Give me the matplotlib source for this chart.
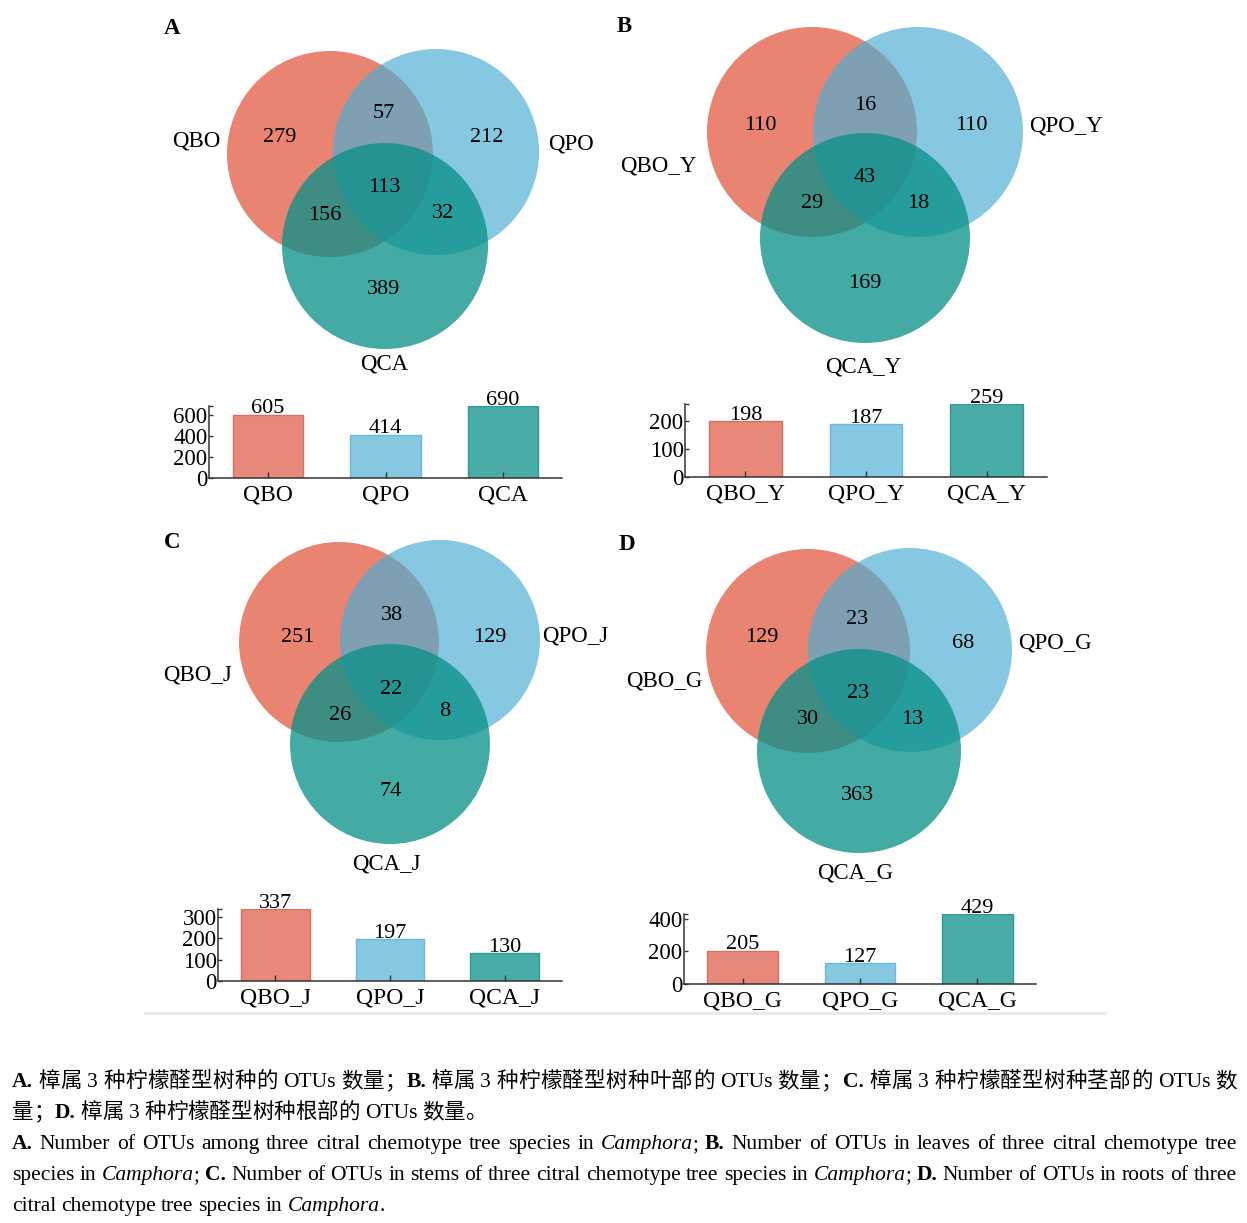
import matplotlib
matplotlib.use('Agg')
import matplotlib.pyplot as plt
from matplotlib.patches import Circle

plt.rcParams['font.family'] = ['Liberation Serif', 'Noto Sans CJK SC']

# ---- data ----
panel_letters = ['A', 'B', 'C', 'D']
set_names = [['QBO', 'QPO', 'QCA'],
             ['QBO_Y', 'QPO_Y', 'QCA_Y'],
             ['QBO_J', 'QPO_J', 'QCA_J'],
             ['QBO_G', 'QPO_G', 'QCA_G']]
# region order: only 1, only 2, 1&2, 1&2&3, 1&3, 2&3, only 3
venn_a = [279, 212, 57, 113, 156, 32, 389]
venn_b = [110, 110, 16, 43, 29, 18, 169]
venn_c = [251, 129, 38, 22, 26, 8, 74]
venn_d = [129, 68, 23, 23, 30, 13, 363]
totals_a = [605, 414, 690]
totals_b = [198, 187, 259]
totals_c = [337, 197, 130]
totals_d = [205, 127, 429]
yticks_a = [0, 200, 400, 600]
yticks_b = [0, 100, 200]
yticks_c = [0, 100, 200, 300]
yticks_d = [0, 200, 400]

venn_counts = [venn_a, venn_b, venn_c, venn_d]
bar_totals = [totals_a, totals_b, totals_c, totals_d]
bar_yticks = [yticks_a, yticks_b, yticks_c, yticks_d]

# ---- layout (pixels of the 1247x1223 canvas) ----
W, H = 1247, 1223
circle_layout = [
    ([(330, 154), (436, 152), (385, 246)], 103),
    ([(812, 132), (918, 132), (865, 238)], 105),
    ([(339, 642), (440, 640), (390, 744)], 100),
    ([(808, 651), (910, 650), (859, 751)], 102),
]
region_pos = [
    [(280, 137), (487, 137), (384, 113), (384, 187), (325, 215), (443, 213), (384, 289)],
    [(760, 126), (971, 126), (865, 105), (865, 178), (812, 204), (918, 204), (865, 283)],
    [(298, 638), (490, 637), (392, 615), (391, 690), (340, 715), (445, 712), (391, 792)],
    [(762, 637), (963, 643), (857, 619), (858, 693), (808, 719), (912, 719), (858, 796)],
]
name_pos = [
    [(196, 141), (571, 144), (384, 364)],
    [(658, 166), (1066, 126), (863, 367)],
    [(197, 675), (575, 636), (386, 864)],
    [(664, 681), (1055, 643), (855, 873)],
]
letter_pos = [(172, 29), (624, 26), (172, 543), (627, 544)]
# left, top, right, bottom of each bar axes
bar_rects = [(209, 406, 562, 478), (685, 404, 1047, 477),
             (218, 909, 562, 981), (684, 914, 1036, 984)]

circle_colors = ['#E8806C', '#4DAED4', '#089088']
circle_alphas = [0.97, 0.68, 0.76]
bar_face = ['#E8887A', '#86C8E2', '#4AACA6']
bar_edge = ['#D9705F', '#6DB8D6', '#2E9A94']

fig = plt.figure(figsize=(12.47, 12.23), dpi=100)
ax0 = fig.add_axes([0, 0, 1, 1])
ax0.set_xlim(0, W)
ax0.set_ylim(H, 0)
ax0.axis('off')


def px_rect(left, top, right, bottom):
    return [left / W, 1 - bottom / H, (right - left) / W, (bottom - top) / H]


for p in range(4):
    centers, r = circle_layout[p]
    for k in range(3):
        ax0.add_patch(Circle(centers[k], r, facecolor=circle_colors[k],
                             alpha=circle_alphas[k], edgecolor='none'))
    for (x, y), v in zip(region_pos[p], venn_counts[p]):
        ax0.text(x, y, str(v), ha='center', va='center', fontsize=16)
    for (x, y), name in zip(name_pos[p], set_names[p]):
        ax0.text(x, y, name, ha='center', va='center', fontsize=16.5)
    lx, ly = letter_pos[p]
    ax0.text(lx, ly, panel_letters[p], ha='center', va='center',
             fontsize=16.5, fontweight='bold')

    # bar chart under each venn
    ax = fig.add_axes(px_rect(*bar_rects[p]))
    ax.patch.set_alpha(0)
    vals = bar_totals[p]
    ax.bar(range(3), vals, width=0.6, color=bar_face, edgecolor=bar_edge, linewidth=1)
    ax.set_xlim(-0.5, 2.5)
    ax.set_ylim(0, max(vals))
    for s in ['top', 'right']:
        ax.spines[s].set_visible(False)
    for s in ['left', 'bottom']:
        ax.spines[s].set_linewidth(1.1)
        ax.spines[s].set_color('#333333')
    ax.set_xticks(range(3))
    ax.set_xticklabels(set_names[p], fontsize=17)
    ax.set_yticks(bar_yticks[p])
    ax.set_yticklabels([str(t) for t in bar_yticks[p]], fontsize=16.5)
    ax.set_yticks([max(vals)], minor=True)
    ax.tick_params(axis='x', direction='in', length=4.5, width=1, pad=4.5, color='#333333')
    ax.tick_params(axis='y', which='both', direction='in', length=3, width=1, pad=1,
                   color='#333333')
    for i, v in enumerate(vals):
        ax.annotate(str(v), (i, v), xytext=(0, 1), textcoords='offset points',
                    ha='center', va='baseline', fontsize=16, annotation_clip=False)

ax0.plot([145, 1105], [1013, 1013], color='#e8e8e8', lw=2)

# ---- caption ----
CAP_FS = 15.5
STYLE = {'n': {}, 'b': {'fontweight': 'bold'}, 'i': {'fontstyle': 'italic'}}
caption_lines = [
    ([('A.', 'b'), (' 樟属 3 种柠檬醛型树种的 OTUs 数量；', 'n'), ('B.', 'b'),
      (' 樟属 3 种柠檬醛型树种叶部的 OTUs 数量；', 'n'), ('C.', 'b'),
      (' 樟属 3 种柠檬醛型树种茎部的 OTUs 数', 'n')], 1087, True),
    ([('量；', 'n'), ('D.', 'b'), (' 樟属 3 种柠檬醛型树种根部的 OTUs 数量。', 'n')], 1118, False),
    ([('A.', 'b'), (' Number of OTUs among three citral chemotype tree species in ', 'n'),
      ('Camphora', 'i'), ('; ', 'n'), ('B.', 'b'),
      (' Number of OTUs in leaves of three citral chemotype tree', 'n')], 1149, True),
    ([('species in ', 'n'), ('Camphora', 'i'), ('; ', 'n'), ('C.', 'b'),
      (' Number of OTUs in stems of three citral chemotype tree species in ', 'n'),
      ('Camphora', 'i'), ('; ', 'n'), ('D.', 'b'), (' Number of OTUs in roots of three', 'n')],
     1180, True),
    ([('citral chemotype tree species in ', 'n'), ('Camphora', 'i'), ('.', 'n')], 1211, False),
]

renderer = fig.canvas.get_renderer()


def text_width(s, style):
    t = ax0.text(0, 0, s, fontsize=CAP_FS, **STYLE[style])
    w = t.get_window_extent(renderer).width
    t.remove()
    return w


def is_cjk(ch):
    return ord(ch) > 0x2E80


def split_chunks(runs):
    # each chunk: [text, style, space_before]; every CJK char is its own chunk
    chunks = []
    pending = False
    for text, style in runs:
        cur = None
        for ch in text:
            if ch == ' ':
                pending = True
                cur = None
            elif is_cjk(ch):
                chunks.append([ch, style, pending])
                pending = False
                cur = None
            elif cur is None:
                cur = [ch, style, pending]
                chunks.append(cur)
                pending = False
            else:
                cur[0] += ch
    return chunks


x_left, x_right = 12, 1237
SPACE = 5.0
for runs, y, justify in caption_lines:
    chunks = split_chunks(runs)
    widths = [text_width(s, st) for s, st, g in chunks]
    natural = sum(widths) + SPACE * sum(1 for c in chunks[1:] if c[2])
    # extra space goes to every space and every boundary touching a CJK char
    slots = set()
    for i in range(1, len(chunks)):
        if chunks[i][2] or is_cjk(chunks[i - 1][0][-1]) or is_cjk(chunks[i][0][0]):
            slots.add(i)
    extra = (x_right - x_left - natural) / len(slots) if justify and slots else 0
    x = x_left
    for i, ((s, st, g), wd) in enumerate(zip(chunks, widths)):
        if i > 0:
            if g:
                x += SPACE
            if i in slots:
                x += extra
        ax0.text(x, y, s, fontsize=CAP_FS, ha='left', va='baseline', **STYLE[st])
        x += wd

fig.savefig('out.png', dpi=100)
